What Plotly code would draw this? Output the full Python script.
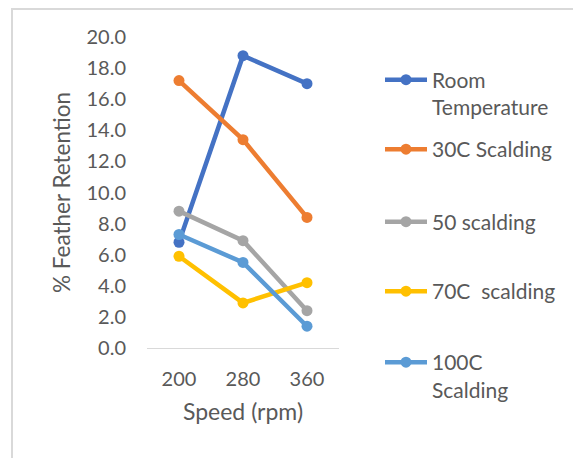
import plotly.graph_objects as go

# ---- data ----
speeds = ["200", "280", "360"]
room_temperature = [6.8, 18.8, 17.0]
scald_30c = [17.2, 13.4, 8.4]
scald_50 = [8.8, 6.9, 2.4]
scald_70c = [5.9, 2.9, 4.2]
scald_100c = [7.3, 5.5, 1.4]
series_labels = ["Room<br>Temperature", "30C Scalding", "50 scalding",
                 "70C\u00a0 scalding", "100C<br>Scalding"]
y_ticks = [0, 2, 4, 6, 8, 10, 12, 14, 16, 18, 20]

series_values = [room_temperature, scald_30c, scald_50, scald_70c, scald_100c]
colors = ["#4472C4", "#ED7D31", "#A5A5A5", "#FFC000", "#5B9BD5"]

W, H = 573, 458
FONT = "Lato"
TXT = "#595959"
L, R, T, B = 147, 339, 37, 348

fig = go.Figure()
legend_names = ["legend", "legend2", "legend3", "legend4", "legend5"]
legend_centers = [80.5, 150, 222.5, 292, 363]

for i, (name, vals) in enumerate(zip(series_labels, series_values)):
    fig.add_trace(go.Scatter(
        x=speeds, y=vals, name=name, mode="lines+markers",
        line=dict(color=colors[i], width=4.5),
        marker=dict(color=colors[i], size=11),
        legend=legend_names[i],
    ))

layout = dict(
    width=W, height=H,
    margin=dict(l=L, r=W - R, t=T, b=H - B, pad=0),
    paper_bgcolor="white", plot_bgcolor="white",
    font=dict(family=FONT, size=20, color=TXT),
    xaxis=dict(
        type="category", range=[-0.5, 2.5],
        showgrid=False, showline=True, linecolor="#D9D9D9", linewidth=1.3,
        ticks="", ticklabelstandoff=13,
        tickfont=dict(family=FONT, size=20, color=TXT),
        title=dict(text="Speed (rpm)", font=dict(family=FONT, size=23, color=TXT), standoff=14),
        zeroline=False,
    ),
    yaxis=dict(
        range=[0, 20], tickmode="array", tickvals=y_ticks, tickformat=".1f",
        showgrid=False, showline=False, zeroline=False, ticks="",
        ticklabelstandoff=20,
        tickfont=dict(family=FONT, size=20, color=TXT),
        title=dict(text="% Feather Retention", font=dict(family=FONT, size=22.5, color=TXT), standoff=9),
    ),
    showlegend=True,
)

for i, ln in enumerate(legend_names):
    layout[ln] = dict(
        xref="container", yref="container",
        x=380 / W, y=1 - (legend_centers[i] - 21) / H,
        xanchor="left", yanchor="top", valign="top",
        bgcolor="rgba(0,0,0,0)", borderwidth=0,
        itemwidth=42, tracegroupgap=0,
        font=dict(family=FONT, size=21, color=TXT),
    )

fig.update_layout(**layout)

# chart frame (light gray border, cropped on right/bottom)
def px_x(px):
    return (px - L) / (R - L)

def px_y(py):
    return (B - py) / (B - T)

fig.add_shape(type="line", xref="paper", yref="paper",
              x0=px_x(12), x1=px_x(12), y0=px_y(9), y1=px_y(460),
              line=dict(color="#D9D9D9", width=2))
fig.add_shape(type="line", xref="paper", yref="paper",
              x0=px_x(11), x1=px_x(575), y0=px_y(9), y1=px_y(9),
              line=dict(color="#D9D9D9", width=2))

fig.write_html("out.html")
